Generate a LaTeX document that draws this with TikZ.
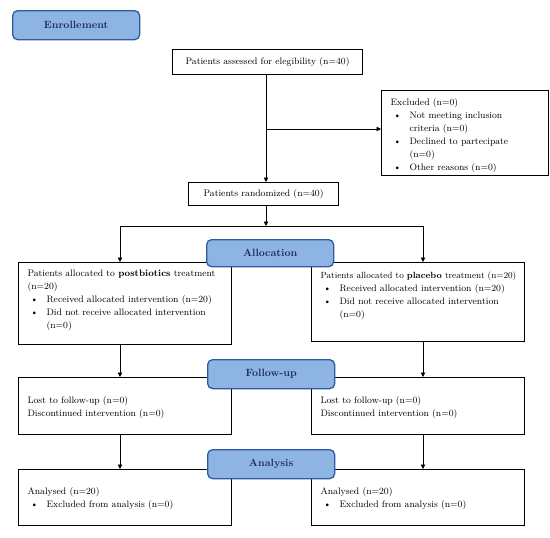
\documentclass[tikz,border=0pt]{standalone}
\usetikzlibrary{arrows.meta}
\definecolor{labfill}{RGB}{142,180,227}
\definecolor{labdraw}{RGB}{45,90,165}
\definecolor{labtext}{RGB}{31,45,96}
\newcommand{\boxfont}{\fontsize{9.4}{13}\selectfont}
\newcommand{\inbox}[4]{\parbox[c][#1][t]{#2}{\boxfont\raggedright\vspace*{#3}\strut #4}}
\newcommand{\bul}[1]{\par{\leftskip=19pt\noindent\llap{\makebox[16pt][l]{\textbullet}}#1\par}}
\tikzset{
  flowbox/.style={draw, line width=1.2pt, fill=white, inner sep=0pt, anchor=north west},
  stagebox/.style={draw=labdraw, fill=labfill, line width=1.3pt, rounded corners=5pt,
    minimum width=127pt, minimum height=28pt, inner sep=0pt, anchor=north west,
    text=labtext, font=\fontsize{10.5}{12}\selectfont\bfseries},
  arr/.style={line width=0.9pt, -{Triangle[length=4.5pt,width=4.5pt]}},
  conn/.style={line width=0.9pt}
}
\begin{document}
\begin{tikzpicture}[x=1pt,y=-1pt]
\useasboundingbox (0,0) rectangle (550,538);
% flow boxes
\node[flowbox, minimum width=190pt, minimum height=25pt, font=\boxfont] (assess) at (172,49) {Patients assessed for elegibility (n=40)};
\node[flowbox, minimum width=167pt, minimum height=85pt] (excl) at (381,90) {\inbox{85pt}{149pt}{5.9pt}{Excluded (n=0)\bul{Not meeting inclusion\\criteria (n=0)}\bul{Declined to partecipate\\(n=0)}\bul{Other reasons (n=0)}}};
\node[flowbox, minimum width=150pt, minimum height=23pt, font=\boxfont] (rand) at (188,182) {Patients randomized (n=40)};
\node[flowbox, minimum width=213pt, minimum height=82pt] (post) at (18,262) {\inbox{82pt}{195pt}{4.9pt}{Patients allocated to \textbf{postbiotics} treatment\\(n=20)\bul{Received allocated intervention (n=20)}\bul{Did not receive allocated intervention\\(n=0)}}};
\node[flowbox, minimum width=213pt, minimum height=79pt] (plac) at (311,262) {\inbox{79pt}{195pt}{6.9pt}{\mbox{\fontsize{8.95}{13}\selectfont Patients allocated to \textbf{placebo} treatment (n=20)}\bul{Received allocated intervention (n=20)}\bul{Did not receive allocated intervention\\(n=0)}}};
\node[flowbox, minimum width=213pt, minimum height=57pt] (fuL) at (18,377) {\inbox{57pt}{195pt}{17pt}{Lost to follow-up (n=0)\\Discontinued intervention (n=0)}};
\node[flowbox, minimum width=213pt, minimum height=57pt] (fuR) at (311,377) {\inbox{57pt}{195pt}{17pt}{Lost to follow-up (n=0)\\Discontinued intervention (n=0)}};
\node[flowbox, minimum width=213pt, minimum height=56pt] (anL) at (18,469) {\inbox{56pt}{195pt}{15.9pt}{Analysed (n=20)\bul{Excluded from analysis (n=0)}}};
\node[flowbox, minimum width=213pt, minimum height=56pt] (anR) at (311,469) {\inbox{56pt}{195pt}{15.9pt}{Analysed (n=20)\bul{Excluded from analysis (n=0)}}};
% connectors
\coordinate (lx) at (120,0);
\coordinate (rx) at (423,0);
\coordinate (mx) at (266,0);
\coordinate (bj) at (266,129);
\coordinate (split) at (266,226);
\draw[arr] (assess.south -| mx) -- (rand.north -| mx);
\draw[arr] (bj) -- (bj -| excl.west);
\draw[arr] (rand.south -| mx) -- (split);
\draw[conn] (split -| lx) -- (split -| rx);
\draw[arr] (split -| lx) -- (post.north -| lx);
\draw[arr] (split -| rx) -- (plac.north -| rx);
\draw[arr] (post.south -| lx) -- (fuL.north -| lx);
\draw[arr] (plac.south -| rx) -- (fuR.north -| rx);
\draw[arr] (fuL.south -| lx) -- (anL.north -| lx);
\draw[arr] (fuR.south -| rx) -- (anR.north -| rx);
% stage labels
\node[stagebox, minimum height=29pt] (enroll) at (12,10) {Enrollement};
\node[stagebox, minimum height=27pt] (alloc) at (206,239) {Allocation};
\node[stagebox, minimum height=29pt] (follow) at (207,359) {Follow-up};
\node[stagebox, minimum height=29pt] (analysis) at (207,449) {Analysis};
\end{tikzpicture}
\end{document}
